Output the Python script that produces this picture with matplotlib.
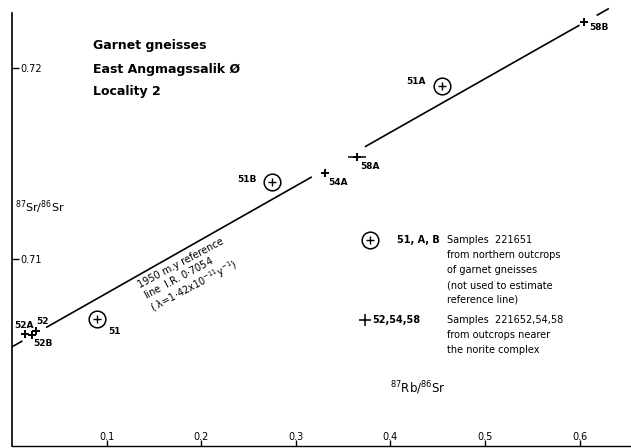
import numpy as np
import matplotlib.pyplot as plt
import matplotlib as mpl

mpl.rcdefaults()
mpl.rcParams['font.family'] = 'DejaVu Sans'
mpl.rcParams['mathtext.default'] = 'regular'

# 1950 m.y. reference line, I.R. 0.7054, lambda = 1.42e-11 /y
age = 1950e6
lam = 1.42e-11
ir = 0.7054
slope = np.exp(lam * age) - 1

# samples 221652,54,58 (plain crosses)
plus_names = ['52A', '52', '52B', '54A', '58A', '58B']
plus_rb = [0.0137, 0.0254, 0.0211, 0.3309, 0.3647, 0.6047]
plus_sr = [0.70607, 0.70623, 0.70602, 0.71450, 0.71534, 0.72241]
plus_xerr = [0, 0, 0, 0, 0.009, 0]

# samples 221651 (circled crosses)
circ_names = ['51', '51B', '51A']
circ_rb = [0.0899, 0.2748, 0.4545]
circ_sr = [0.70686, 0.71403, 0.71906]

# parts of the reference line that are drawn (broken round the labels)
line_pieces = [(0.0, 0.011), (0.036, 0.317), (0.373, 0.600), (0.618, 0.631)]

xticks = [0.1, 0.2, 0.3, 0.4, 0.5, 0.6]
yticks = [0.71, 0.72]

# label offsets in points (ha, dx, dy)
plus_off = [('center', -1, 6.5), ('left', 0, 7), ('left', 1, -6),
            ('left', 2, -7), ('left', 2, -6.5), ('left', 4, -4)]
circ_off = [('left', 8, -9), ('right', -11, 2), ('right', -12, 3)]

fig = plt.figure(figsize=(6.31, 4.48), dpi=100)
ax = fig.add_axes([12 / 631, 2 / 448, 619 / 631, 446 / 448])
ax.set_xlim(0, 619 / 946)
ax.set_ylim(0.72 - 378 / 19100, 0.72 + 68 / 19100)

for sp in ['top', 'right']:
    ax.spines[sp].set_visible(False)
ax.spines['left'].set_bounds(0.72 - 378 / 19100, 0.72 + 55 / 19100)
ax.spines['left'].set_linewidth(1.2)
ax.spines['bottom'].set_linewidth(1.0)

# reference line
for a, b in line_pieces:
    xs = np.array([a, b])
    ax.plot(xs, ir + slope * xs, color='k', lw=1.2, solid_capstyle='butt')

ax.errorbar(plus_rb, plus_sr, xerr=plus_xerr, fmt='+', color='k',
            ms=6, mew=1.4, elinewidth=1.1, capsize=0)
ax.plot(circ_rb, circ_sr, 'o', mfc='none', mec='k', ms=12, mew=1.1)
ax.plot(circ_rb, circ_sr, '+', color='k', ms=6, mew=1.0)

for name, x, y, (ha, dx, dy) in zip(plus_names, plus_rb, plus_sr, plus_off):
    ax.annotate(name, (x, y), xytext=(dx, dy), textcoords='offset points',
                ha=ha, va='center', fontsize=6.5, fontweight='bold')
for name, x, y, (ha, dx, dy) in zip(circ_names, circ_rb, circ_sr, circ_off):
    ax.annotate(name, (x, y), xytext=(dx, dy), textcoords='offset points',
                ha=ha, va='center', fontsize=6.5, fontweight='bold')

ax.text(0.2843, 0.381,
        '1950 m.y reference\nline  I.R. 0$\\cdot$7054\n( $\\lambda$=1$\\cdot$42x10$^{-11}$y$^{-1}$)',
        transform=ax.transAxes, rotation=28, ha='center', va='center',
        multialignment='left', fontsize=7, linespacing=1.1)

# ticks
ax.set_xticks(xticks)
ax.set_xticklabels(['0.1', '0.2', '0.3', '0.4', '0.5', '0.6'])
ax.tick_params(axis='x', direction='in', length=4, width=1, pad=-10, labelsize=7)
ax.set_yticks(yticks)
ax.set_yticklabels(['0.71', '0.72'])
ax.tick_params(axis='y', direction='in', length=5, width=1, pad=-6, labelsize=7)
plt.setp(ax.get_yticklabels(), ha='left')

ax.set_ylabel('$^{87}$Sr/$^{86}$Sr', rotation=0, ha='left', va='center', fontsize=8)
ax.yaxis.set_label_coords(0.005, 0.536)
ax.set_xlabel('$^{87}$Rb/$^{86}$Sr', ha='center', va='center', fontsize=8.5)
ax.xaxis.set_label_coords(0.656, 0.130)

# title block
ax.text(0.131, 0.899, 'Garnet gneisses', transform=ax.transAxes,
        fontsize=9, fontweight='bold', va='center')
ax.text(0.131, 0.845, 'East Angmagssalik Ø', transform=ax.transAxes,
        fontsize=9, fontweight='bold', va='center')
ax.text(0.131, 0.794, 'Locality 2', transform=ax.transAxes,
        fontsize=9, fontweight='bold', va='center')

# key
key1 = ['Samples  221651', 'from northern outcrops', 'of garnet gneisses',
        '(not used to estimate', 'reference line)']
key2 = ['Samples  221652,54,58', 'from outcrops nearer', 'the norite complex']
ax.plot([0.5784], [0.4619], 'o', mfc='none', mec='k', ms=12, mew=1.1,
        transform=ax.transAxes)
ax.plot([0.5784], [0.4619], '+', color='k', ms=6, mew=1.0, transform=ax.transAxes)
ax.text(0.622, 0.4619, '51, A, B', transform=ax.transAxes, fontsize=7,
        fontweight='bold', va='center')
ax.plot([0.5703], [0.2825], '+', color='k', ms=9, mew=1.1, transform=ax.transAxes)
ax.text(0.5816, 0.2825, '52,54,58', transform=ax.transAxes, fontsize=7,
        fontweight='bold', va='center')
for i, s in enumerate(key1):
    ax.text(0.7027, (446 - 240 - 15 * i) / 446, s, transform=ax.transAxes,
            fontsize=7, va='center')
for i, s in enumerate(key2):
    ax.text(0.7027, (446 - 320 - 15 * i) / 446, s, transform=ax.transAxes,
            fontsize=7, va='center')

plt.savefig('out.png', dpi=100)
